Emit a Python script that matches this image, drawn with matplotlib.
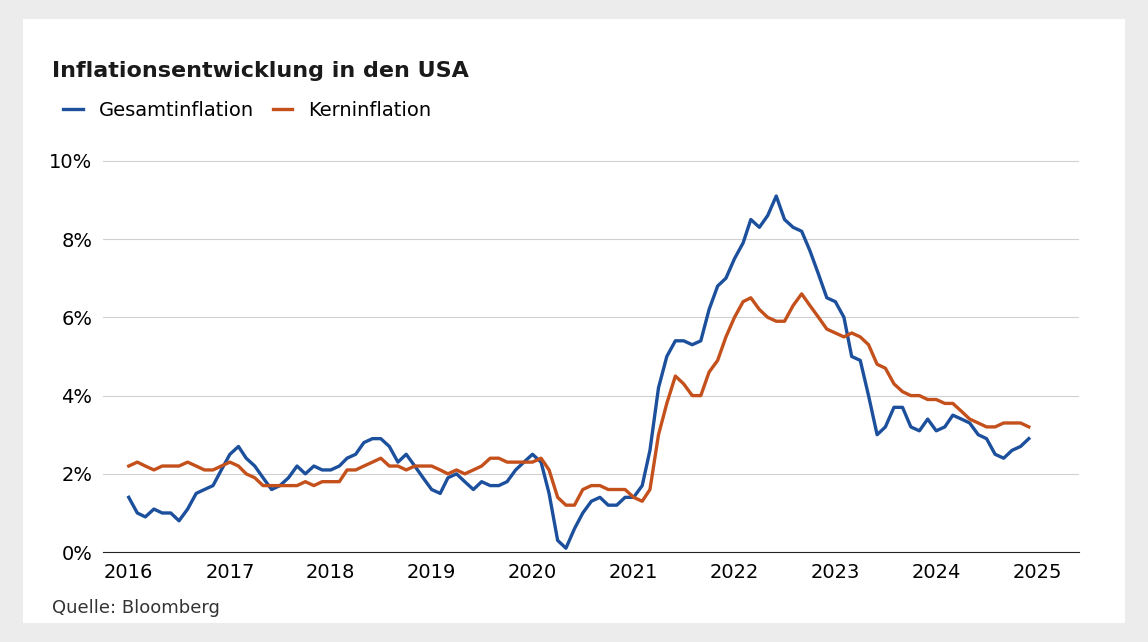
import numpy as np
import pandas as pd
import matplotlib.pyplot as plt

# ── Daten (monatlich, 2016-01 bis 2024-12, Vorjahresveränderung in %) ──
gesamt = [1.4, 1.0, 0.9, 1.1, 1.0, 1.0, 0.8, 1.1, 1.5, 1.6, 1.7, 2.1,
          2.5, 2.7, 2.4, 2.2, 1.9, 1.6, 1.7, 1.9, 2.2, 2.0, 2.2, 2.1,
          2.1, 2.2, 2.4, 2.5, 2.8, 2.9, 2.9, 2.7, 2.3, 2.5, 2.2, 1.9,
          1.6, 1.5, 1.9, 2.0, 1.8, 1.6, 1.8, 1.7, 1.7, 1.8, 2.1, 2.3,
          2.5, 2.3, 1.5, 0.3, 0.1, 0.6, 1.0, 1.3, 1.4, 1.2, 1.2, 1.4,
          1.4, 1.7, 2.6, 4.2, 5.0, 5.4, 5.4, 5.3, 5.4, 6.2, 6.8, 7.0,
          7.5, 7.9, 8.5, 8.3, 8.6, 9.1, 8.5, 8.3, 8.2, 7.7, 7.1, 6.5,
          6.4, 6.0, 5.0, 4.9, 4.0, 3.0, 3.2, 3.7, 3.7, 3.2, 3.1, 3.4,
          3.1, 3.2, 3.5, 3.4, 3.3, 3.0, 2.9, 2.5, 2.4, 2.6, 2.7, 2.9]
kern = [2.2, 2.3, 2.2, 2.1, 2.2, 2.2, 2.2, 2.3, 2.2, 2.1, 2.1, 2.2,
        2.3, 2.2, 2.0, 1.9, 1.7, 1.7, 1.7, 1.7, 1.7, 1.8, 1.7, 1.8,
        1.8, 1.8, 2.1, 2.1, 2.2, 2.3, 2.4, 2.2, 2.2, 2.1, 2.2, 2.2,
        2.2, 2.1, 2.0, 2.1, 2.0, 2.1, 2.2, 2.4, 2.4, 2.3, 2.3, 2.3,
        2.3, 2.4, 2.1, 1.4, 1.2, 1.2, 1.6, 1.7, 1.7, 1.6, 1.6, 1.6,
        1.4, 1.3, 1.6, 3.0, 3.8, 4.5, 4.3, 4.0, 4.0, 4.6, 4.9, 5.5,
        6.0, 6.4, 6.5, 6.2, 6.0, 5.9, 5.9, 6.3, 6.6, 6.3, 6.0, 5.7,
        5.6, 5.5, 5.6, 5.5, 5.3, 4.8, 4.7, 4.3, 4.1, 4.0, 4.0, 3.9,
        3.9, 3.8, 3.8, 3.6, 3.4, 3.3, 3.2, 3.2, 3.3, 3.3, 3.3, 3.2]
monate = pd.date_range('2016-01-01', periods=len(gesamt), freq='MS')
jahre = list(range(2016, 2026))
y_ticks = [0, 2, 4, 6, 8, 10]

BLAU = '#1c4f9c'
ORANGE = '#c4501c'

fig = plt.figure(figsize=(11.48, 6.42), dpi=100)
fig.patch.set_facecolor('#ececec')
card = fig.add_axes([0.02, 0.03, 0.96, 0.94])
card.set_facecolor('white')
card.set_xticks([]); card.set_yticks([])
for s in card.spines.values():
    s.set_visible(False)

ax = fig.add_axes([0.09, 0.14, 0.85, 0.64])
ax.plot(monate, gesamt, color=BLAU, lw=2.4, label='Gesamtinflation')
ax.plot(monate, kern, color=ORANGE, lw=2.4, label='Kerninflation')

ax.set_ylim(0, 10.5)
ax.set_yticks(y_ticks)
ax.set_yticklabels([f'{v}%' for v in y_ticks], fontsize=14)
ax.set_xlim(pd.Timestamp('2015-10-01'), pd.Timestamp('2025-06-01'))
ax.set_xticks([pd.Timestamp(f'{j}-01-01') for j in jahre])
ax.set_xticklabels([str(j) for j in jahre], fontsize=14)
ax.grid(axis='y', color='#d0d0d0', lw=0.8)
ax.tick_params(length=0, pad=8)
for s in ['top', 'right', 'left']:
    ax.spines[s].set_visible(False)
ax.spines['bottom'].set_color('#222222')

fig.text(0.045, 0.88, 'Inflationsentwicklung in den USA', fontsize=16,
         fontweight='bold', color='#1a1a1a')
fig.legend(loc='upper left', bbox_to_anchor=(0.04, 0.87), ncol=2,
           frameon=False, fontsize=14, handlelength=1.0, columnspacing=1.0)
fig.text(0.045, 0.045, 'Quelle: Bloomberg', fontsize=13, color='#333333')

plt.savefig('out.png', dpi=100, facecolor=fig.get_facecolor())
